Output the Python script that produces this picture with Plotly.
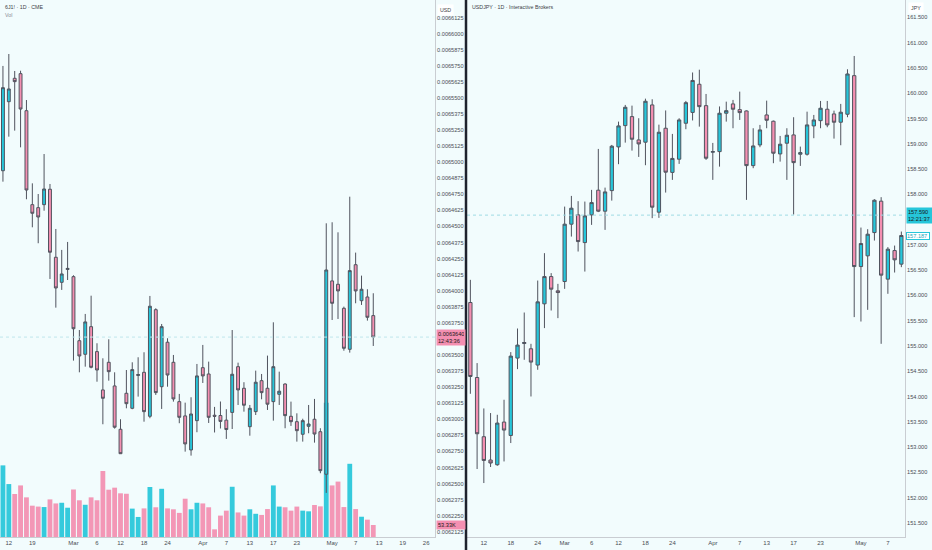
import pandas as pd
import plotly.graph_objects as go

W, H = 932, 550

# ---- 6J1! (CME yen futures) daily, Feb 11 - May 12 2026 (no bar on Presidents' Day)
fut_dates = pd.bdate_range("2026-02-11", "2026-05-12").drop(pd.Timestamp("2026-02-16"))
fut_open = [0.0064934, 0.0065471, 0.0065653, 0.0065689, 0.0065401, 0.0064670, 0.0064647, 0.0064670,
            0.0064790, 0.0064261, 0.0064066, 0.0064166, 0.0064110, 0.0063612, 0.0063506, 0.0063721,
            0.0063527, 0.0063229, 0.0063444, 0.0063260, 0.0062923, 0.0063203, 0.0063086, 0.0063341,
            0.0063366, 0.0063024, 0.0063853, 0.0063254, 0.0063600, 0.0063444, 0.0063138, 0.0063027,
            0.0062762, 0.0062990, 0.0063402, 0.0063353, 0.0063032, 0.0063030, 0.0062994, 0.0063054,
            0.0063410, 0.0063242, 0.0062943, 0.0063060, 0.0063301, 0.0063242, 0.0063138, 0.0063195,
            0.0063275, 0.0063024, 0.0062982, 0.0062884, 0.0062946, 0.0063001, 0.0062904, 0.0062573,
            0.0064077, 0.0064051, 0.0063864, 0.0063545, 0.0064203, 0.0063923, 0.0063952, 0.0063807]
fut_high = [0.0065749, 0.0065842, 0.0065710, 0.0065712, 0.0065484, 0.0064836, 0.0064753, 0.0065064,
            0.0064831, 0.0064481, 0.0064318, 0.0064380, 0.0064121, 0.0063695, 0.0063820, 0.0063962,
            0.0063592, 0.0063475, 0.0063623, 0.0063366, 0.0063001, 0.0063384, 0.0063444, 0.0063483,
            0.0063522, 0.0063960, 0.0063864, 0.0063742, 0.0063631, 0.0063501, 0.0063198, 0.0063130,
            0.0063172, 0.0063431, 0.0063579, 0.0063449, 0.0063097, 0.0063139, 0.0063079, 0.0063695,
            0.0063441, 0.0063289, 0.0063112, 0.0063379, 0.0063353, 0.0063496, 0.0063755, 0.0063371,
            0.0063280, 0.0063138, 0.0063047, 0.0063005, 0.0063112, 0.0063159, 0.0062931, 0.0064525,
            0.0064533, 0.0064455, 0.0063877, 0.0064732, 0.0064297, 0.0064118, 0.0064012, 0.0063981]
fut_low = [0.0064849, 0.0065199, 0.0065246, 0.0065116, 0.0064712, 0.0064494, 0.0064370, 0.0064623,
           0.0064092, 0.0063869, 0.0064007, 0.0064084, 0.0063457, 0.0063366, 0.0063410, 0.0063397,
           0.0063293, 0.0062962, 0.0063301, 0.0062928, 0.0062731, 0.0063086, 0.0063079, 0.0063177,
           0.0062982, 0.0063009, 0.0063190, 0.0063081, 0.0063254, 0.0063138, 0.0062970, 0.0062749,
           0.0062718, 0.0062900, 0.0063283, 0.0062972, 0.0062898, 0.0062929, 0.0062848, 0.0062925,
           0.0063112, 0.0063060, 0.0062873, 0.0063034, 0.0063156, 0.0063073, 0.0062990, 0.0063112,
           0.0062931, 0.0062949, 0.0062827, 0.0062827, 0.0062892, 0.0062819, 0.0062581, 0.0062428,
           0.0063773, 0.0063781, 0.0063534, 0.0063519, 0.0063903, 0.0063890, 0.0063768, 0.0063571]
fut_close = [0.0065580, 0.0065570, 0.0065627, 0.0065414, 0.0064784, 0.0064603, 0.0064574, 0.0064792,
             0.0064300, 0.0064022, 0.0064131, 0.0064174, 0.0063705, 0.0063493, 0.0063758, 0.0063405,
             0.0063384, 0.0063164, 0.0063371, 0.0062939, 0.0062733, 0.0063122, 0.0063387, 0.0063349,
             0.0063060, 0.0063880, 0.0063208, 0.0063721, 0.0063345, 0.0063159, 0.0063016, 0.0062809,
             0.0063042, 0.0063338, 0.0063338, 0.0063016, 0.0063024, 0.0062984, 0.0062921, 0.0063351,
             0.0063229, 0.0063110, 0.0063086, 0.0063289, 0.0063208, 0.0063118, 0.0063410, 0.0063219,
             0.0063029, 0.0062982, 0.0062912, 0.0062990, 0.0062964, 0.0062886, 0.0062601, 0.0064162,
             0.0063903, 0.0063999, 0.0063553, 0.0064157, 0.0063999, 0.0064012, 0.0063794, 0.0063640]
# volume, thousands of contracts
fut_vol_k = [318, 235, 191, 229, 176, 139, 135, 133, 167, 149,
             152, 130, 211, 163, 143, 176, 163, 293, 210, 219,
             194, 192, 126, 89, 127, 222, 132, 214, 127, 123,
             107, 170, 123, 152, 149, 132, 34, 95, 117, 223,
             109, 95, 123, 103, 98, 124, 229, 135, 132, 117,
             135, 117, 114, 142, 136, 596, 229, 246, 133, 325,
             124, 90, 77, 53.33]
fut_countdown = "12:43:36"

# ---- USDJPY (Interactive Brokers) daily, Feb 10 - May 11 2026
fx_dates = pd.bdate_range("2026-02-10", "2026-05-11")
fx_open = [155.862, 154.379, 153.208, 152.747, 152.654, 153.498, 153.233, 154.763, 155.051, 154.947,
           154.625, 155.836, 156.375, 156.093, 156.277, 157.411, 157.595, 157.047, 157.595, 158.083,
           157.668, 158.075, 158.939, 159.360, 159.538, 159.077, 159.032, 159.769, 157.648, 159.308,
           158.435, 158.696, 159.407, 159.621, 160.178, 159.755, 158.834, 158.846, 159.605, 159.789,
           159.676, 159.650, 158.569, 158.978, 159.571, 159.447, 158.800, 159.012, 159.176, 158.794,
           158.794, 159.354, 159.458, 159.684, 159.591, 159.427, 159.585, 160.348, 156.573, 156.785,
           157.245, 157.866, 156.324, 156.889, 156.621]
fx_high = [156.310, 154.664, 153.767, 153.676, 153.642, 153.939, 154.881, 155.348, 155.664, 155.045,
           156.296, 156.838, 156.443, 156.231, 157.759, 157.970, 157.866, 157.858, 158.089, 158.899,
           158.134, 158.978, 159.439, 159.769, 159.755, 159.506, 159.893, 159.881, 159.379, 159.660,
           159.196, 159.506, 159.848, 160.411, 160.466, 159.986, 159.018, 159.739, 159.834, 159.868,
           160.032, 159.660, 159.308, 159.374, 159.854, 159.460, 159.156, 159.308, 159.526, 158.945,
           159.636, 159.571, 159.848, 159.848, 159.656, 159.789, 160.474, 160.737, 157.344, 157.312,
           157.905, 157.945, 156.957, 156.988, 157.265]
fx_low = [154.057, 152.569, 152.292, 152.609, 152.634, 152.719, 153.083, 154.545, 154.729, 154.004,
          154.532, 155.356, 155.704, 155.553, 156.132, 157.166, 156.870, 156.474, 157.397, 157.650,
          157.298, 157.877, 158.597, 159.024, 158.866, 158.741, 158.577, 157.530, 157.536, 158.036,
          158.287, 158.603, 159.289, 159.462, 159.340, 158.682, 158.287, 158.549, 159.439, 159.308,
          159.472, 157.891, 158.518, 158.933, 159.308, 158.617, 158.648, 158.287, 157.601, 158.563,
          158.767, 159.111, 159.308, 159.328, 159.103, 158.972, 159.526, 155.573, 155.486, 155.717,
          157.087, 155.045, 156.034, 156.455, 156.561]
fx_close = [154.399, 153.267, 152.739, 152.688, 153.478, 153.340, 154.802, 155.020, 155.071, 154.684,
            155.875, 156.375, 156.126, 156.059, 157.411, 157.727, 157.067, 157.575, 157.838, 157.668,
            158.049, 158.953, 159.354, 159.723, 159.091, 158.998, 159.842, 157.747, 159.229, 158.439,
            158.711, 159.472, 159.814, 160.253, 159.735, 158.715, 158.846, 159.605, 159.656, 159.684,
            159.617, 158.569, 158.958, 159.275, 159.466, 158.814, 158.992, 159.170, 158.628, 158.826,
            159.374, 159.472, 159.704, 159.374, 159.427, 159.625, 160.381, 156.573, 157.028, 157.213,
            157.885, 156.403, 156.917, 156.706, 157.187]
fx_quote = 157.590
fx_countdown = "12:21:37"

# ---- axis labels
fut_tick_dates = ["2026-02-12", "2026-02-19", "2026-03-02", "2026-03-06", "2026-03-12", "2026-03-18",
                  "2026-03-24", "2026-04-01", "2026-04-07", "2026-04-13", "2026-04-17", "2026-04-23",
                  "2026-05-01", "2026-05-07", "2026-05-13", "2026-05-19", "2026-05-26"]
fut_tick_text = ["12", "19", "Mar", "6", "12", "18", "24", "Apr", "7", "13", "17", "23",
                 "May", "7", "13", "19", "26"]
fx_tick_dates = ["2026-02-12", "2026-02-18", "2026-02-24", "2026-03-02", "2026-03-06", "2026-03-12",
                 "2026-03-18", "2026-03-24", "2026-04-01", "2026-04-07", "2026-04-13", "2026-04-17",
                 "2026-04-23", "2026-05-01", "2026-05-07"]
fx_tick_text = ["12", "18", "24", "Mar", "6", "12", "18", "24", "Apr", "7", "13", "17", "23", "May", "7"]
usd_ticks = [round(0.0062125 + i * 0.0000125, 7) for i in range(33)]
jpy_ticks = [151.5 + i * 0.5 for i in range(21)]

UP = "#26c6da"
DN = "#f48fb1"
EDGE = "#50535e"
BG = "#f2fcfd"
TXT = "#4a4d55"
FONT = "Liberation Sans"

noon = pd.Timedelta(hours=12)
fut_x = fut_dates + noon
fx_x = fx_dates + noon
vol_colors = [UP if c >= o else DN for o, c in zip(fut_open, fut_close)]

fig = go.Figure()
fig.add_trace(go.Bar(x=fut_x, y=fut_vol_k, marker_color=vol_colors, marker_line_width=0,
                     opacity=0.92, width=0.82 * 86400000, xaxis="x", yaxis="y"))
candle_style = dict(increasing=dict(fillcolor=UP, line=dict(color=EDGE, width=1)),
                    decreasing=dict(fillcolor=DN, line=dict(color=EDGE, width=1)),
                    whiskerwidth=0)
fig.add_trace(go.Candlestick(x=fut_x, open=fut_open, high=fut_high, low=fut_low, close=fut_close,
                             xaxis="x", yaxis="y3", **candle_style))
fig.add_trace(go.Candlestick(x=fx_x, open=fx_open, high=fx_high, low=fx_low, close=fx_close,
                             xaxis="x2", yaxis="y2", **candle_style))

tickfont = dict(family=FONT, size=6, color=TXT)
xcommon = dict(type="date", showgrid=False, zeroline=False, showline=True, linecolor="#c9cdd2",
               ticks="", tickfont=tickfont, rangeslider=dict(visible=False))
ycommon = dict(side="right", showgrid=False, zeroline=False, showline=True, linecolor="#c9cdd2",
               ticks="", tickfont=dict(family=FONT, size=5.6, color=TXT))
ydom = [13 / H, 1]

fig.update_layout(
    width=W, height=H, margin=dict(l=0, r=0, t=0, b=0),
    paper_bgcolor=BG, plot_bgcolor=BG, showlegend=False,
    xaxis=dict(domain=[0, 435 / W], anchor="y",
               range=["2026-02-11 00:00", "2026-05-28 00:00"],
               rangebreaks=[dict(bounds=["sat", "mon"]), dict(values=["2026-02-16", "2026-05-25"])],
               tickvals=[pd.Timestamp(d) + noon for d in fut_tick_dates], ticktext=fut_tick_text,
               **xcommon),
    yaxis=dict(domain=ydom, anchor="x", range=[0, 537 * 4.44], visible=False),
    yaxis3=dict(overlaying="y", anchor="x", range=[0.0062085, 0.0066262],
                tickvals=usd_ticks, tickformat=".7f", **ycommon),
    xaxis2=dict(domain=[467 / W, 905 / W], anchor="y2",
                range=["2026-02-10 00:00", "2026-05-12 01:00"],
                rangebreaks=[dict(bounds=["sat", "mon"])],
                tickvals=[pd.Timestamp(d) + noon for d in fx_tick_dates], ticktext=fx_tick_text,
                **xcommon),
    yaxis2=dict(domain=ydom, anchor="x2", range=[151.225, 161.844],
                tickvals=jpy_ticks, tickformat=".3f", **ycommon),
)

# last-price lines
fig.add_shape(type="line", xref="x domain", yref="y3", x0=0, x1=1, y0=fut_close[-1], y1=fut_close[-1],
              line=dict(color="#bfe6ec", width=1, dash="dot"))
fig.add_shape(type="line", xref="x2 domain", yref="y2", x0=0, x1=1, y0=fx_quote, y1=fx_quote,
              line=dict(color="#9fdbe4", width=1, dash="dot"))
# panel divider
fig.add_shape(type="line", xref="paper", yref="paper", x0=466 / W, x1=466 / W, y0=0, y1=1,
              line=dict(color="#1e222d", width=2.5))

lab = dict(family=FONT, size=5.6, color="#1a1a1a")
title_font = dict(family=FONT, size=5.3, color="#3c3f47")
ann = [
    dict(x=3 / W, y=1 - 7 / H, text="6J1! · 1D · CME", font=title_font),
    dict(x=3 / W, y=1 - 15 / H, text="Vol", font=dict(family=FONT, size=5.3, color="#8a8d95")),
    dict(x=470 / W, y=1 - 7 / H, text="USDJPY · 1D · Interactive Brokers", font=title_font),
    dict(x=437 / W, y=1 - 10 / H, text="USD", font=dict(family=FONT, size=5.3, color="#3c3f47"),
         bgcolor="#ffffff", borderpad=2),
    dict(x=908 / W, y=1 - 8 / H, text="JPY", font=dict(family=FONT, size=5.3, color="#3c3f47"),
         bgcolor="#ffffff", borderpad=2),
]
for a in ann:
    fig.add_annotation(xref="paper", yref="paper", xanchor="left", yanchor="middle", showarrow=False, **a)

fig.add_annotation(xref="paper", yref="y3", x=435.5 / W, y=fut_close[-1], xanchor="left", yanchor="middle",
                   text=f"{fut_close[-1]:.7f}<br>{fut_countdown}", font=lab, bgcolor=DN,
                   showarrow=False, align="left", borderpad=1, width=26)
fig.add_annotation(xref="paper", yref="y", x=435.5 / W, y=fut_vol_k[-1], xanchor="left", yanchor="middle",
                   text=f"{fut_vol_k[-1]:.2f}K", font=lab, bgcolor=DN, showarrow=False,
                   align="left", borderpad=1, width=26)
fig.add_annotation(xref="paper", yref="y2", x=905.5 / W, y=fx_quote, xanchor="left", yanchor="middle",
                   text=f"{fx_quote:.3f}<br>{fx_countdown}", font=lab, bgcolor=UP, showarrow=False,
                   align="left", borderpad=1, width=24)
fig.add_annotation(xref="paper", yref="y2", x=905.5 / W, y=fx_close[-1], xanchor="left", yanchor="middle",
                   text=f"{fx_close[-1]:.3f}", font=dict(family=FONT, size=5.6, color="#26a6b8"),
                   bgcolor="#ffffff", bordercolor=UP, borderwidth=1, showarrow=False,
                   align="left", borderpad=0, width=22)

# the page body has a default 8px margin; drop it so the figure fills the window
fig.write_html("out.html", config={"displayModeBar": False},
               post_script="document.body.style.margin='0';")
